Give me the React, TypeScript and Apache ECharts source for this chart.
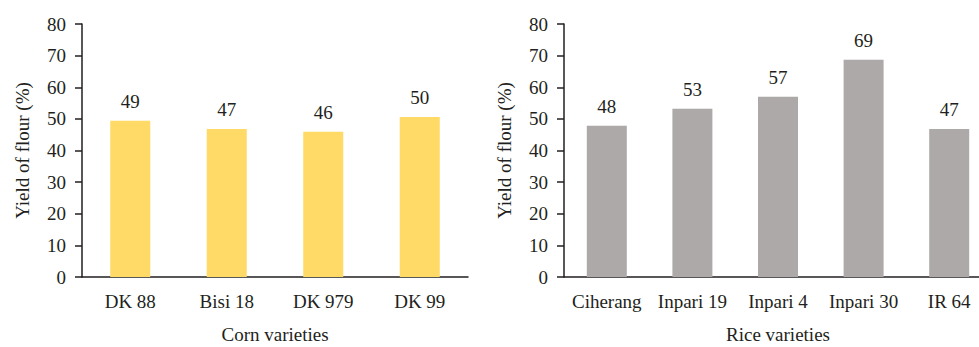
import React, { useEffect, useRef } from "react";
import * as echarts from "echarts";

const cornCategories = ["DK 88", "Bisi 18", "DK 979", "DK 99"];
const cornValues = [49.4, 46.8, 45.9, 50.6];
const cornLabels = ["49", "47", "46", "50"];

const riceCategories = ["Ciherang", "Inpari 19", "Inpari 4", "Inpari 30", "IR 64"];
const riceValues = [47.8, 53.2, 57.0, 68.7, 46.8];
const riceLabels = ["48", "53", "57", "69", "47"];

const yTicks = [0, 10, 20, 30, 40, 50, 60, 70, 80];

const FONT = "'Liberation Serif', 'DejaVu Serif', serif";
const AXIS = "#231F20";
const FS = 19;

export default function App() {
  const ref = useRef<HTMLDivElement>(null);
  useEffect(() => {
    if (!ref.current) return;
    const chart = echarts.init(ref.current, null, { renderer: "svg" });
    const yAxisCommon = (gridIndex: number) => ({
      type: "value" as const,
      gridIndex,
      min: yTicks[0],
      max: yTicks[yTicks.length - 1],
      interval: 10,
      name: "Yield of flour (%)",
      nameLocation: "middle" as const,
      nameGap: 50,
      nameTextStyle: { fontFamily: FONT, fontSize: FS, color: AXIS },
      axisLine: { show: true, lineStyle: { color: AXIS, width: 1.5 } },
      axisTick: { show: true, length: 7, inside: false, lineStyle: { color: AXIS, width: 1.5 } },
      axisLabel: { fontFamily: FONT, fontSize: FS, color: AXIS, margin: 16 },
      splitLine: { show: false },
    });
    const xAxisCommon = (gridIndex: number, data: string[], name: string) => ({
      type: "category" as const,
      gridIndex,
      data,
      name,
      nameLocation: "middle" as const,
      nameGap: 48,
      nameTextStyle: { fontFamily: FONT, fontSize: FS, color: AXIS },
      axisLine: { show: true, lineStyle: { color: AXIS, width: 1.5 } },
      axisTick: { show: false },
      axisLabel: { fontFamily: FONT, fontSize: FS, color: AXIS, margin: 15, interval: 0 },
    });
    const labelCommon = {
      show: true,
      position: "top" as const,
      distance: 10,
      fontFamily: FONT,
      fontSize: FS,
      color: AXIS,
    };
    chart.setOption({
      animation: false,
      backgroundColor: "#ffffff",
      grid: [
        { left: 82, top: 24, width: 386, height: 253, containLabel: false, outerBoundsMode: "none" },
        { left: 564, top: 24, width: 428, height: 253, containLabel: false, outerBoundsMode: "none" },
      ],
      xAxis: [
        xAxisCommon(0, cornCategories, "Corn varieties"),
        xAxisCommon(1, riceCategories, "Rice varieties"),
      ],
      yAxis: [yAxisCommon(0), yAxisCommon(1)],
      series: [
        {
          type: "bar",
          xAxisIndex: 0,
          yAxisIndex: 0,
          data: cornValues,
          barWidth: 40,
          itemStyle: { color: "#FFDA66" },
          label: { ...labelCommon, formatter: (p: any) => cornLabels[p.dataIndex] },
        },
        {
          type: "bar",
          xAxisIndex: 1,
          yAxisIndex: 1,
          data: riceValues,
          barWidth: 40,
          itemStyle: { color: "#ADA9A8" },
          label: { ...labelCommon, formatter: (p: any) => riceLabels[p.dataIndex] },
        },
      ],
    });
    return () => chart.dispose();
  }, []);
  return (
    <div
      ref={ref}
      style={{ position: "fixed", left: 0, top: 0, width: 979, height: 347, background: "#fff" }}
    />
  );
}
